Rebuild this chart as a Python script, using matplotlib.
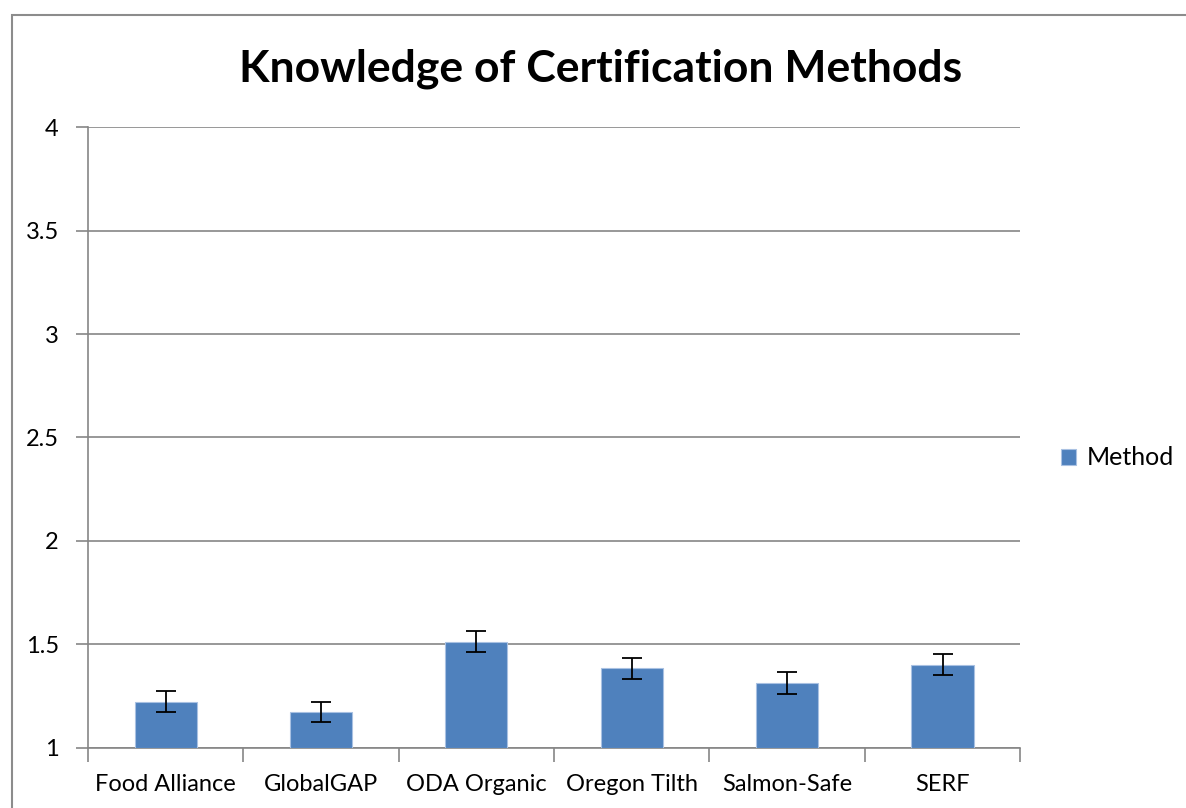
import numpy as np
import matplotlib
matplotlib.use("Agg")
import matplotlib.pyplot as plt
from matplotlib.patches import Rectangle

# data
methods = ["Food Alliance", "GlobalGAP", "ODA Organic", "Oregon Tilth", "Salmon-Safe", "SERF"]
means = [1.224, 1.174, 1.514, 1.384, 1.316, 1.403]
errors = [0.050, 0.050, 0.050, 0.051, 0.053, 0.050]
yticks = [1, 1.5, 2, 2.5, 3, 3.5, 4]
ylabels = ["1", "1.5", "2", "2.5", "3", "3.5", "4"]

plt.rcParams['font.family'] = ['Lato', 'DejaVu Sans']

fig = plt.figure(figsize=(11.86, 8.08), dpi=100)
ax = fig.add_axes([0.0742, 0.0743, 0.786, 0.7685])

x = np.arange(len(methods))
ax.bar(x, np.array(means) - 1, bottom=1, width=0.4, color='#4F81BD',
       edgecolor='#A9C1E2', linewidth=0.8, label='Method', zorder=3)
ax.errorbar(x, means, yerr=errors, fmt='none', ecolor='black', elinewidth=1.3,
            capsize=7, capthick=1.3, zorder=4)

ax.set_ylim(1, 4)
ax.set_xlim(-0.5, len(methods) - 0.5)
ax.set_yticks(yticks)
ax.set_yticklabels(ylabels, fontsize=17)
ax.yaxis.grid(True, color='#868686', linewidth=1.2, zorder=0)

# category boundaries get the tick marks, labels sit in between
ax.set_xticks(np.arange(-0.5, len(methods), 1.0))
ax.set_xticklabels([])
ax.set_xticks(x, minor=True)
ax.set_xticklabels(methods, minor=True, fontsize=17)
ax.tick_params(axis='x', which='major', length=10, color='#868686', width=1.2)
ax.tick_params(axis='x', which='minor', length=0, pad=19)
ax.tick_params(axis='y', length=9, color='#868686', width=1.2, pad=12)

for s in ['top', 'right']:
    ax.spines[s].set_visible(False)
for s in ['left', 'bottom']:
    ax.spines[s].set_color('#868686')
    ax.spines[s].set_linewidth(1.2)

fig.text(0.5065, 0.915, "Knowledge of Certification Methods", ha='center', va='center',
         fontsize=32, fontweight='bold')

ax.legend(loc='center left', bbox_to_anchor=(1.02, 0.467), frameon=False, fontsize=18,
          handlelength=0.6, handleheight=0.6, handletextpad=0.4)

# outer chart frame
fig.patches.append(Rectangle((12 / 1186, -0.1), 1.2, 1 - 15 / 808 + 0.1, transform=fig.transFigure,
                             fill=False, edgecolor='#8c8c8c', linewidth=1.5))

fig.savefig("out.png", dpi=100)
